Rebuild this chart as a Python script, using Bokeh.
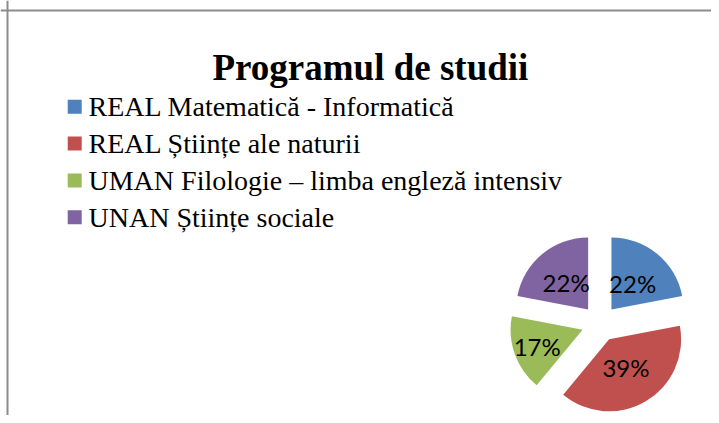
import math
from bokeh.plotting import figure
from bokeh.models import Range1d, Span, ColumnDataSource
from bokeh.core.properties import value
from bokeh.embed import file_html
from bokeh.resources import INLINE

# ---- data ----
title_text = "Programul de studii"
categories = [
    "REAL Matematică - Informatică",
    "REAL Științe ale naturii",
    "UMAN Filologie – limba engleză intensiv",
    "UNAN Științe sociale",
]
shares = [22, 39, 17, 22]
colors = ["#4F81BD", "#C0504D", "#9BBB59", "#8064A2"]

# ---- layout / style (pixel positions measured from top-left) ----
W, H = 711, 415
def Y(py):
    return H - py

cx, cy, R = 599.3, 323.1, 72.0          # pie centre and radius (px)
explode = 18.3                          # explosion distance (px)
label_frac = [0.46, 0.46, 0.67, 0.48]   # label distance from slice apex, fraction of R

p = figure(width=W, height=H, x_range=Range1d(0, W), y_range=Range1d(0, H),
           x_axis_type=None, y_axis_type=None, output_backend="svg",
           toolbar_location=None, min_border=0)
p.grid.visible = False
p.outline_line_color = None
p.background_fill_color = "white"
p.border_fill_color = "white"

# chart-area border (top and left visible)
p.add_layout(Span(location=Y(10), dimension="width", line_color="#8c8c8c", line_width=2))
p.add_layout(Span(location=7, dimension="height", line_color="#8c8c8c", line_width=2))

serif = value("Times New Roman")

# title
p.text(x=[369.9], y=[Y(66.7)], text=[title_text], text_font=serif,
       text_font_style="bold", text_font_size="37px", text_align="center",
       text_baseline="alphabetic", text_color="black")

# pie
total = float(sum(shares))
xs, ys, st, en, lx, ly, labs = [], [], [], [], [], [], []
theta = 0.0
for i, v in enumerate(shares):
    span = v / total * 2 * math.pi
    t1, t2 = theta, theta + span
    tm = (t1 + t2) / 2
    ax = cx + explode * math.sin(tm)
    ay = Y(cy) + explode * math.cos(tm)
    xs.append(ax); ys.append(ay)
    st.append(math.pi / 2 - t2); en.append(math.pi / 2 - t1)
    lx.append(ax + label_frac[i] * R * math.sin(tm))
    ly.append(ay + label_frac[i] * R * math.cos(tm))
    labs.append(f"{v / total * 100:.0f}%")
    theta = t2

src = ColumnDataSource(dict(x=xs, y=ys, start=st, end=en, color=colors,
                            lx=lx, ly=ly, lab=labs))
p.wedge(x="x", y="y", radius=R, start_angle="start", end_angle="end",
        fill_color="color", line_color=None, source=src)
p.text(x="lx", y="ly", text="lab", source=src, text_font=value("Lato"),
       text_font_size="24px", text_align="center", text_baseline="middle",
       text_color="black")

# legend
row0, row_gap = 106.3, 36.8   # first row centre (px from top) and spacing
sq_x, txt_x = 74.2, 88.0
n = len(categories)
leg_y = [Y(row0 + i * row_gap) for i in range(n)]
lsrc = ColumnDataSource(dict(x=[sq_x] * n, tx=[txt_x] * n, y=leg_y, c=colors, t=categories))
p.rect(x="x", y="y", width=14, height=14, width_units="screen", height_units="screen",
       fill_color="c", line_color=None, source=lsrc)
p.text(x="tx", y="y", text="t", source=lsrc, text_font=serif,
       text_font_size="28px", text_align="left", text_baseline="middle",
       text_color="black")

open("out.html", "w").write(file_html(p, INLINE))
